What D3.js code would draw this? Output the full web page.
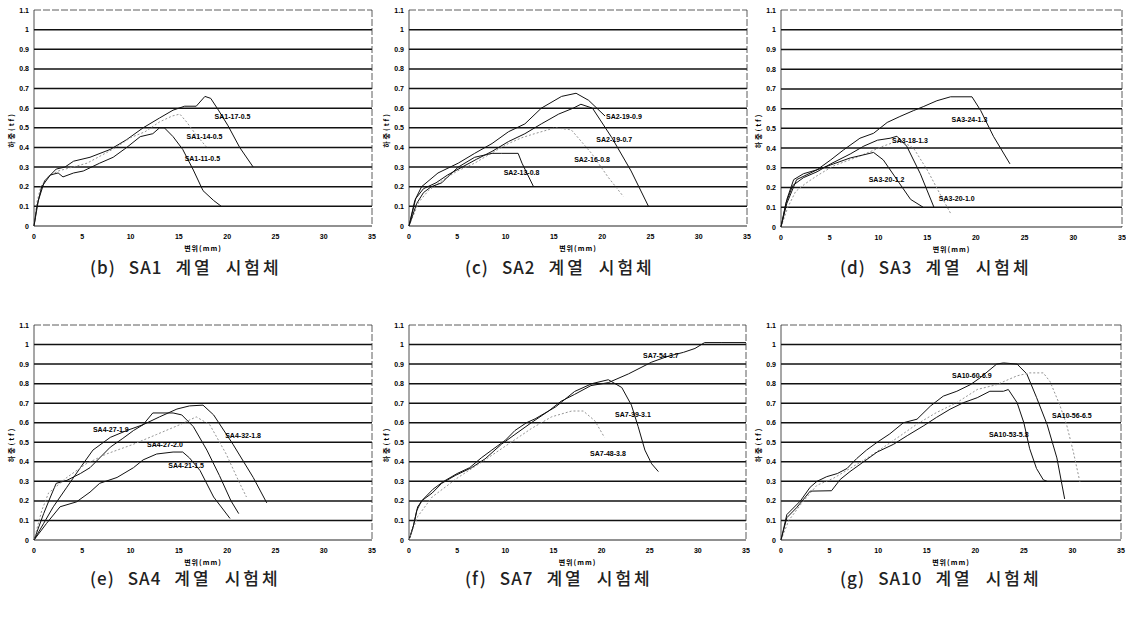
<!DOCTYPE html>
<html>
<head>
<meta charset="utf-8">
<script src="https://cdn.jsdelivr.net/npm/d3@7"></script>
<style>
  body { margin: 0; background: #fff; }
  svg { display: block; }
  text { font-family: "Liberation Sans", Arial, sans-serif; }
</style>
</head>
<body>
<svg width="1126" height="623"></svg>
<script>
// load (tf) vs displacement (mm)
const xTicks = [0, 5, 10, 15, 20, 25, 30, 35];
const yTicks = [0, 0.1, 0.2, 0.3, 0.4, 0.5, 0.6, 0.7, 0.8, 0.9, 1, 1.1];

// (b) SA1
const sa1_17 = [[0,0],[0.45,0.13],[1.1,0.23],[2.3,0.29],[3.2,0.3],[4.1,0.33],[5.8,0.35],[7.9,0.39],[9.6,0.44],[11.3,0.5],[13,0.55],[14.4,0.59],[15.6,0.61],[16.8,0.61],[17.7,0.66],[18.3,0.65],[19.1,0.59],[20.1,0.51],[21.3,0.4],[22.7,0.3]];
const sa1_14 = [[0,0],[0.3,0.12],[0.7,0.2],[1.4,0.25],[2.5,0.28],[4,0.3],[5.5,0.32],[7,0.36],[8.5,0.4],[10,0.45],[11.5,0.48],[13,0.53],[14.3,0.56],[15.1,0.57],[15.8,0.53],[16.7,0.47],[17.9,0.4]];
const sa1_11 = [[0,0],[0.3,0.1],[0.8,0.2],[1.7,0.26],[2.5,0.27],[3,0.25],[4.1,0.27],[5.1,0.28],[6.8,0.32],[8.2,0.35],[9.6,0.4],[11,0.455],[12.3,0.47],[13,0.5],[13.5,0.5],[14.4,0.455],[15.4,0.39],[16.5,0.285],[17.5,0.18],[18.6,0.13],[19.4,0.1]];

// (c) SA2
const sa2_19a = [[0,0],[0.6,0.13],[1.3,0.2],[3,0.27],[5.1,0.32],[6.8,0.37],[8.6,0.42],[10.3,0.48],[12,0.52],[13.7,0.6],[15.8,0.66],[17.3,0.676],[18.6,0.64],[20.3,0.56]];
const sa2_19b = [[0,0],[0.7,0.14],[1.5,0.19],[2.8,0.22],[4,0.26],[5.5,0.3],[7,0.34],[8.6,0.38],[10.3,0.43],[12,0.47],[13.7,0.52],[15.5,0.57],[17,0.6],[17.8,0.62],[19,0.6],[21,0.45],[23,0.28],[24.8,0.1]];
const sa2_16 = [[0,0],[1,0.12],[2,0.18],[3.4,0.23],[5,0.28],[6.8,0.32],[8.5,0.37],[10.3,0.42],[11.7,0.45],[13,0.47],[15.1,0.5],[16.8,0.49],[18.9,0.37],[20.6,0.25],[22.2,0.15]];
const sa2_13 = [[0,0],[0.8,0.115],[1.5,0.17],[2.3,0.2],[3.4,0.22],[4,0.25],[5.1,0.3],[6.8,0.35],[8.6,0.37],[9.6,0.37],[11.3,0.37],[11.7,0.32],[12.9,0.2]];

// (d) SA3
const sa3_24 = [[0,0],[0.6,0.14],[1.3,0.24],[2.3,0.27],[3.7,0.29],[5.1,0.34],[6.4,0.39],[8.1,0.45],[9.5,0.475],[10.9,0.53],[12.2,0.56],[13.6,0.59],[14.6,0.61],[16,0.64],[17.4,0.66],[19.6,0.66],[20.5,0.59],[21.8,0.46],[23.5,0.32]];
const sa3_18 = [[0,0],[0.5,0.12],[1.2,0.21],[2.3,0.25],[3.7,0.28],[5.1,0.32],[7.1,0.37],[8.5,0.41],[9.9,0.44],[11.2,0.45],[11.9,0.46],[12.9,0.41],[14.3,0.27],[15.7,0.1]];
const sa3_20a = [[0,0],[0.7,0.1],[1.5,0.18],[2.5,0.22],[3.7,0.26],[5.4,0.31],[8.1,0.36],[10.5,0.41],[12.2,0.44],[13.6,0.4],[15,0.29],[16.4,0.16],[17.4,0.07]];
const sa3_20b = [[0,0],[0.6,0.12],[1.6,0.24],[3.7,0.29],[5.4,0.32],[7.1,0.35],[8.5,0.366],[9.5,0.378],[10.5,0.34],[11.9,0.24],[13.3,0.14],[14.6,0.1]];

// (e) SA4
const sa4_32 = [[0,0],[1,0.085],[2,0.17],[3.4,0.27],[4.8,0.37],[6.1,0.46],[7.9,0.525],[9.6,0.56],[11.3,0.59],[13,0.63],[14.8,0.67],[16.1,0.686],[17.5,0.69],[18.6,0.64],[20.6,0.49],[22.7,0.32],[24.1,0.19]];
const sa4_27a = [[0,0],[1,0.135],[1.7,0.22],[2.3,0.29],[3.4,0.305],[4.8,0.34],[5.8,0.37],[6.8,0.42],[7.9,0.475],[9.2,0.52],[10.3,0.56],[11.3,0.59],[12.3,0.65],[14.4,0.65],[15.3,0.64],[16.5,0.58],[17.9,0.46],[19.2,0.33],[20.4,0.2],[21.2,0.135]];
const sa4_27b = [[0,0],[0.8,0.15],[1.5,0.24],[3.4,0.32],[5.4,0.39],[7.5,0.44],[10.3,0.49],[12.7,0.54],[15.1,0.59],[16.8,0.63],[18.2,0.59],[19.9,0.44],[21.3,0.29],[22,0.22]];
const sa4_21 = [[0,0],[1.3,0.085],[2.7,0.17],[4.4,0.195],[5.8,0.245],[6.8,0.29],[8.6,0.32],[10.3,0.37],[11.3,0.41],[12.7,0.44],[14.4,0.45],[15.4,0.45],[16.1,0.42],[17.2,0.355],[18.6,0.22],[20.3,0.11]];

// (f) SA7
const sa7_54 = [[0,0],[0.45,0.07],[0.8,0.15],[1.3,0.2],[2.4,0.24],[3.4,0.29],[4.8,0.33],[6.5,0.37],[7.9,0.415],[9.6,0.49],[11,0.54],[12.7,0.6],[14.5,0.66],[15.8,0.71],[17.2,0.745],[18.9,0.79],[20.7,0.805],[22.8,0.85],[25.2,0.91],[26.9,0.94],[28.5,0.96],[29.7,0.98],[30.7,1.01],[32.5,1.01],[35,1.01]];
const sa7_39 = [[0,0],[0.5,0.08],[0.9,0.17],[1.5,0.21],[2.5,0.26],[3.6,0.3],[5,0.34],[6.3,0.37],[7.5,0.42],[8.6,0.46],[10,0.51],[11,0.56],[12.2,0.6],[13.1,0.62],[15.2,0.68],[17.2,0.76],[19,0.8],[20.7,0.82],[22.1,0.78],[23.1,0.69],[23.8,0.58],[24.5,0.46],[25.2,0.39],[25.9,0.35]];
const sa7_48 = [[0,0],[0.9,0.12],[2.4,0.22],[5.1,0.32],[7.9,0.41],[10.3,0.49],[12.7,0.57],[14.8,0.63],[16.9,0.66],[18.1,0.66],[19.3,0.61],[20.3,0.525]];

// (g) SA10
const sa10_60 = [[0,0],[0.6,0.13],[2,0.2],[3,0.27],[3.7,0.3],[4.7,0.324],[5.8,0.34],[6.8,0.366],[7.8,0.417],[8.8,0.46],[9.9,0.5],[11.2,0.543],[12.6,0.6],[14,0.618],[15.4,0.686],[16.7,0.736],[18.1,0.761],[19.5,0.795],[20.5,0.83],[22.2,0.9],[22.9,0.906],[24.3,0.9],[25.3,0.85],[26.3,0.73],[27.4,0.59],[28.4,0.42],[29.2,0.21]];
const sa10_56 = [[0,0],[0.8,0.1],[2,0.18],[3,0.24],[3.7,0.28],[5.4,0.316],[7.1,0.366],[8.8,0.417],[10.6,0.476],[12.3,0.534],[14,0.593],[16,0.652],[18.1,0.703],[20.2,0.77],[22.2,0.795],[24.3,0.84],[25.6,0.855],[27,0.855],[27.7,0.81],[28.7,0.69],[29.4,0.59],[30.1,0.45],[30.8,0.29]];
const sa10_53 = [[0,0],[0.6,0.114],[1.6,0.165],[3,0.25],[5.2,0.252],[6.1,0.31],[7.1,0.35],[8.5,0.4],[9.9,0.45],[11.6,0.49],[13,0.534],[14.7,0.585],[16,0.627],[17.4,0.669],[18.8,0.703],[20.2,0.728],[21.5,0.761],[22.9,0.761],[23.4,0.77],[24.3,0.703],[25,0.6],[25.6,0.467],[26.3,0.366],[27,0.308],[27.4,0.3]];

const panels = [
  {left: 34, right: 372, top: 10, bottom: 226, cap: ["(b)", "SA1", "계열", "시험체"], capX: 90, capY: 274,
   series: [{d: sa1_17}, {d: sa1_14, dash: true}, {d: sa1_11}],
   labels: [["SA1-17-0.5", 18.7, 0.557], ["SA1-14-0.5", 15.8, 0.455], ["SA1-11-0.5", 15.6, 0.345]]},
  {left: 409, right: 747, top: 10, bottom: 226, cap: ["(c)", "SA2", "계열", "시험체"], capX: 465, capY: 274,
   series: [{d: sa2_19a}, {d: sa2_19b}, {d: sa2_16, dash: true}, {d: sa2_13}],
   labels: [["SA2-19-0.9", 20.4, 0.56], ["SA2-19-0.7", 19.4, 0.44], ["SA2-16-0.8", 17.1, 0.34], ["SA2-13-0.8", 9.8, 0.27]]},
  {left: 781, right: 1122, top: 10, bottom: 227, cap: ["(d)", "SA3", "계열", "시험체"], capX: 840, capY: 274,
   series: [{d: sa3_24}, {d: sa3_18}, {d: sa3_20a, dash: true}, {d: sa3_20b}],
   labels: [["SA3-24-1.3", 17.5, 0.543], ["SA3-18-1.3", 11.4, 0.44], ["SA3-20-1.2", 9.0, 0.24], ["SA3-20-1.0", 16.2, 0.143]]},
  {left: 34, right: 372, top: 325, bottom: 540, cap: ["(e)", "SA4", "계열", "시험체"], capX: 90, capY: 585,
   series: [{d: sa4_32}, {d: sa4_27a}, {d: sa4_27b, dash: true}, {d: sa4_21}],
   labels: [["SA4-27-1.9", 6.1, 0.563], ["SA4-27-2.0", 11.7, 0.49], ["SA4-32-1.8", 19.8, 0.534], ["SA4-21-1.5", 13.9, 0.38]]},
  {left: 409, right: 746, top: 325, bottom: 540, cap: ["(f)", "SA7", "계열", "시험체"], capX: 465, capY: 585,
   series: [{d: sa7_54}, {d: sa7_39}, {d: sa7_48, dash: true}],
   labels: [["SA7-54-3.7", 24.3, 0.944], ["SA7-39-3.1", 21.4, 0.64], ["SA7-48-3.8", 18.8, 0.444]]},
  {left: 781, right: 1121, top: 325, bottom: 540, cap: ["(g)", "SA10", "계열", "시험체"], capX: 840, capY: 585,
   series: [{d: sa10_60}, {d: sa10_56, dash: true}, {d: sa10_53}],
   labels: [["SA10-60-6.9", 17.6, 0.843], ["SA10-56-6.5", 27.9, 0.636], ["SA10-53-5.8", 21.4, 0.539]]}
];

const svg = d3.select("svg");

for (const p of panels) {
  const x = d3.scaleLinear([0, 35], [p.left, p.right]);
  const y = d3.scaleLinear([0, 1.1], [p.bottom, p.top]);
  const g = svg.append("g");

  // horizontal grid
  g.selectAll("line.grid")
    .data(yTicks.filter(v => v > 0 && v < 1.05))
    .enter().append("line")
    .attr("x1", p.left).attr("x2", p.right)
    .attr("y1", d => y(d)).attr("y2", d => y(d))
    .attr("stroke", "#111").attr("stroke-width", 1.5);

  // frame: dashed top/right, solid left/bottom
  g.append("line").attr("x1", p.left).attr("x2", p.right).attr("y1", y(1.1)).attr("y2", y(1.1))
    .attr("stroke", "#333").attr("stroke-width", 0.8).attr("stroke-dasharray", "7,2");
  g.append("line").attr("x1", p.right).attr("x2", p.right).attr("y1", y(1.1)).attr("y2", y(0))
    .attr("stroke", "#333").attr("stroke-width", 0.8).attr("stroke-dasharray", "7,2");
  g.append("line").attr("x1", p.left).attr("x2", p.left).attr("y1", y(1.1)).attr("y2", y(0))
    .attr("stroke", "#222").attr("stroke-width", 0.8);
  g.append("line").attr("x1", p.left).attr("x2", p.right).attr("y1", y(0)).attr("y2", y(0))
    .attr("stroke", "#222").attr("stroke-width", 1);

  // tick labels
  g.selectAll("text.yt").data(yTicks).enter().append("text")
    .attr("x", p.left - 5).attr("y", d => y(d) + 2.5)
    .attr("text-anchor", "end").attr("font-size", 7).attr("font-weight", "bold")
    .text(d => d);
  g.selectAll("text.xt").data(xTicks).enter().append("text")
    .attr("x", d => x(d)).attr("y", p.bottom + 13)
    .attr("text-anchor", "middle").attr("font-size", 7).attr("font-weight", "bold")
    .text(d => d);

  // axis titles
  g.append("text")
    .attr("transform", `translate(${p.left - 20},${(p.top + p.bottom) / 2 + 12}) rotate(-90)`)
    .attr("text-anchor", "middle").attr("font-size", 7).attr("font-weight", "bold")
    .attr("letter-spacing", 2)
    .style("font-family", "'Noto Sans CJK KR', sans-serif")
    .text("하중(tf)");
  g.append("text")
    .attr("x", (p.left + p.right) / 2).attr("y", p.bottom + 25)
    .attr("text-anchor", "middle").attr("font-size", 7).attr("font-weight", "bold")
    .attr("letter-spacing", 1)
    .style("font-family", "'Noto Sans CJK KR', sans-serif")
    .text("변위(mm)");

  // curves
  const line = d3.line().x(d => x(d[0])).y(d => y(d[1]));
  for (const s of p.series) {
    g.append("path").attr("d", line(s.d)).attr("fill", "none")
      .attr("stroke", s.dash ? "#888" : "#111")
      .attr("stroke-width", s.dash ? 0.9 : 1)
      .attr("stroke-dasharray", s.dash ? "2,2" : null);
  }

  // series names
  g.selectAll("text.lab").data(p.labels).enter().append("text")
    .attr("x", d => x(d[1])).attr("y", d => y(d[2]) + 2.5)
    .attr("font-size", 7).attr("font-weight", "bold")
    .text(d => d[0]);

  // caption, word by word with wide gaps
  let cx = p.capX;
  for (const w of p.cap) {
    const korean = /[가-힣]/.test(w);
    const t = svg.append("text")
      .attr("x", cx).attr("y", p.capY)
      .attr("font-size", 17).attr("font-weight", 500).attr("fill", "#222")
      .attr("letter-spacing", korean ? 3 : 1)
      .style("font-family", "'Noto Sans CJK KR', sans-serif")
      .text(w);
    cx += t.node().getComputedTextLength() + 13;
  }
}
</script>
</body>
</html>
